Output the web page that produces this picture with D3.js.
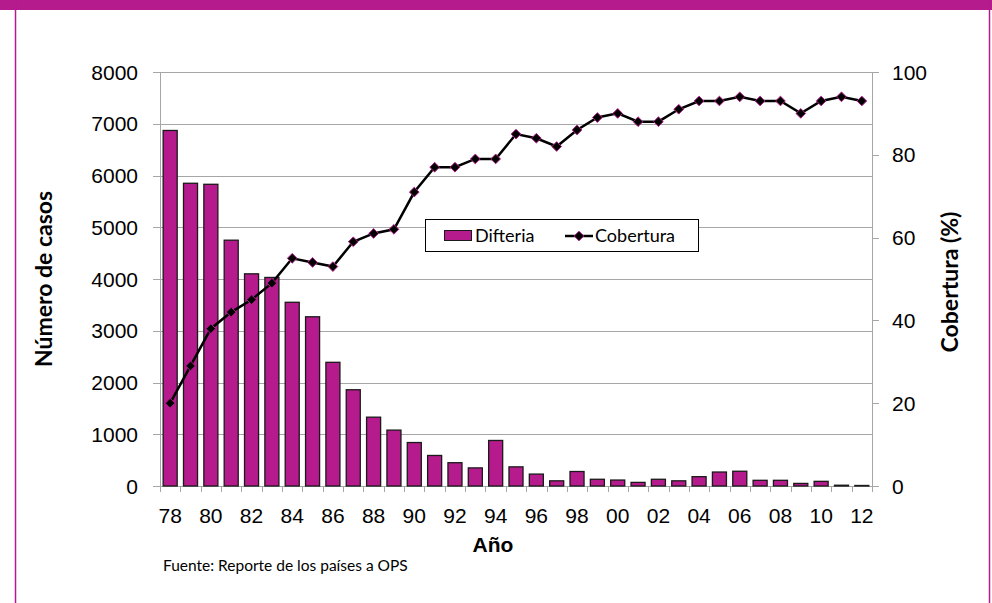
<!DOCTYPE html>
<html><head><meta charset="utf-8">
<script src="https://cdn.jsdelivr.net/npm/d3@7/dist/d3.min.js"></script>
<style>body{margin:0;background:#fff}svg{display:block}</style>
</head><body>
<svg id="c" width="992" height="603"></svg>
<script>
const years = ["78","79","80","81","82","83","84","85","86","87","88","89","90","91","92","93","94","95","96","97","98","99","00","01","02","03","04","05","06","07","08","09","10","11","12"];
const difteria = [6870,5850,5830,4750,4100,4030,3550,3270,2390,1860,1330,1080,840,590,450,350,880,370,230,100,280,130,115,70,130,100,180,270,285,110,110,50,90,15,10];
const cobertura = [20,29,38,42,45,49,55,54,53,59,61,62,71,77,77,79,79,85,84,82,86,89,90,88,88,91,93,93,94,93,93,90,93,94,93];
const leftTicks = [0,1000,2000,3000,4000,5000,6000,7000,8000];
const rightTicks = [0,20,40,60,80,100];
const xLabels = years.filter((d,i)=>i%2===0);

const svg = d3.select("#c");
const pink = "#B51B8C";
const L=160, R=872, T=72, B=486;

// frame
svg.append("rect").attr("x",0).attr("y",0).attr("width",992).attr("height",10).attr("fill",pink);
svg.append("line").attr("x1",15.5).attr("x2",15.5).attr("y1",0).attr("y2",603).attr("stroke",pink).attr("stroke-width",1.5);
svg.append("line").attr("x1",989.5).attr("x2",989.5).attr("y1",0).attr("y2",603).attr("stroke",pink).attr("stroke-width",1.5);

const x = d3.scaleBand().domain(years).range([L,R]).paddingInner(0.31).paddingOuter(0.155);
const xb = d3.scaleBand().domain(years).range([L,R]);
const y = d3.scaleLinear().domain([0,8000]).range([B,T]);
const y2 = d3.scaleLinear().domain([0,100]).range([B,T]);
const grid = "#A6A6A6";

// gridlines + left ticks
svg.append("g").selectAll("line").data(leftTicks).join("line")
  .attr("x1",153).attr("x2",R).attr("y1",d=>Math.round(y(d))+0.5).attr("y2",d=>Math.round(y(d))+0.5)
  .attr("stroke",grid).attr("stroke-width",1);
// axes lines
svg.append("line").attr("x1",L+0.5).attr("x2",L+0.5).attr("y1",T).attr("y2",B).attr("stroke",grid);
svg.append("line").attr("x1",R+0.5).attr("x2",R+0.5).attr("y1",T).attr("y2",B).attr("stroke",grid);
// right ticks
svg.append("g").selectAll("line").data(rightTicks).join("line")
  .attr("x1",R).attr("x2",R+7).attr("y1",d=>Math.round(y2(d))+0.5).attr("y2",d=>Math.round(y2(d))+0.5)
  .attr("stroke",grid);
// x ticks at band boundaries
const bounds = years.map(d=>xb(d)).concat([R]);
svg.append("g").selectAll("line").data(bounds).join("line")
  .attr("x1",d=>Math.round(d)+0.5).attr("x2",d=>Math.round(d)+0.5).attr("y1",B).attr("y2",B+6)
  .attr("stroke",grid);

// bars
svg.append("g").selectAll("rect").data(years).join("rect")
  .attr("x",d=>x(d)).attr("width",x.bandwidth())
  .attr("y",(d,i)=>y(difteria[i])).attr("height",(d,i)=>B-y(difteria[i]))
  .attr("fill",pink).attr("stroke","#1a1a1a").attr("stroke-width",1.3);

// line
const line = d3.line().x((d,i)=>xb(years[i])+xb.bandwidth()/2).y(d=>y2(d));
svg.append("path").datum(cobertura).attr("d",line).attr("fill","none").attr("stroke","#000").attr("stroke-width",2.5);
const diamond = d3.symbol().type(d3.symbolDiamond2).size(60);
svg.append("g").selectAll("path").data(cobertura).join("path")
  .attr("d",diamond)
  .attr("transform",(d,i)=>`translate(${xb(years[i])+xb.bandwidth()/2},${y2(d)})`)
  .attr("fill","#000").attr("stroke",pink).attr("stroke-width",1);

// tick labels
const tf = "'Liberation Sans', Arial, sans-serif";
svg.append("g").selectAll("text").data(leftTicks).join("text")
  .attr("x",138).attr("y",d=>y(d)).attr("dy","0.36em").attr("text-anchor","end")
  .attr("font-family",tf).attr("font-size",21).attr("fill","#000").text(d=>d);
svg.append("g").selectAll("text").data(rightTicks).join("text")
  .attr("x",892).attr("y",d=>y2(d)).attr("dy","0.36em").attr("text-anchor","start")
  .attr("font-family",tf).attr("font-size",21).attr("fill","#000").text(d=>d);
svg.append("g").selectAll("text").data(xLabels).join("text")
  .attr("x",d=>xb(d)+xb.bandwidth()/2).attr("y",523).attr("text-anchor","middle")
  .attr("font-family",tf).attr("font-size",21).attr("fill","#000").text(d=>d);

// axis titles
svg.append("text").attr("x",493).attr("y",552).attr("text-anchor","middle")
  .attr("font-family",tf).attr("font-weight","bold").attr("font-size",21).text("Año");
const cf = "Lato, 'Open Sans', sans-serif";
svg.append("text").attr("transform","translate(52,279) rotate(-90)").attr("text-anchor","middle")
  .attr("font-family",cf).attr("font-weight","bold").attr("font-size",23).text("Número de casos");
svg.append("text").attr("transform","translate(958,282) rotate(-90)").attr("text-anchor","middle")
  .attr("font-family",cf).attr("font-weight","bold").attr("font-size",23).text("Cobertura (%)");

// source
svg.append("text").attr("x",163).attr("y",571).attr("font-family",cf).attr("font-size",15.5).text("Fuente: Reporte de los países a OPS");

// legend
const lg = svg.append("g");
lg.append("rect").attr("x",425.5).attr("y",219.5).attr("width",273).attr("height",32).attr("fill","#fff").attr("stroke","#000");
lg.append("rect").attr("x",444.5).attr("y",230.5).attr("width",27).attr("height",10).attr("fill",pink).attr("stroke","#1a1a1a");
lg.append("text").attr("x",475).attr("y",242).attr("font-family",cf).attr("font-size",18).text("Difteria");
lg.append("line").attr("x1",565).attr("x2",593).attr("y1",236).attr("y2",236).attr("stroke","#000").attr("stroke-width",2.5);
lg.append("path").attr("d",diamond).attr("transform","translate(579,236)").attr("fill","#000").attr("stroke",pink);
lg.append("text").attr("x",595).attr("y",242).attr("font-family",cf).attr("font-size",18).text("Cobertura");
</script>
</body></html>
